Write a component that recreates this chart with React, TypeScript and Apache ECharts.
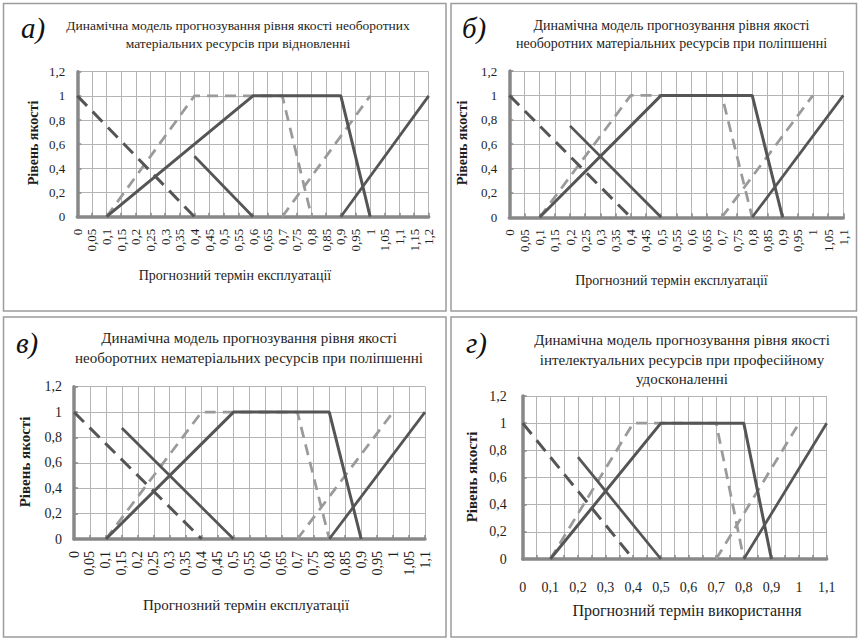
import React, { useEffect, useRef } from "react";
import * as echarts from "echarts";

// ---------- data (x = прогнозний термін, y = рівень якості) ----------
const panelLetters = ["а)", "б)", "в)", "г)"];
const panelTitles = [
  "Динамічна модель прогнозування рівня якості необоротних\nматеріальних ресурсів при відновленні",
  "Динамічна модель прогнозування рівня якості\nнеоборотних матеріальних ресурсів при поліпшенні",
  "Динамічна модель прогнозування рівня якості\nнеоборотних нематеріальних ресурсів при поліпшенні",
  "Динамічна модель прогнозування рівня якості\nінтелектуальних ресурсів при професійному\nудосконаленні",
];
const yAxisTitle = "Рівень якості";
const xAxisTitles = [
  "Прогнозний термін експлуатації",
  "Прогнозний термін експлуатації",
  "Прогнозний термін експлуатації",
  "Прогнозний термін використання",
];
const xMaxValues = [1.2, 1.1, 1.1, 1.1];
const xTickStep = 0.05;
const yTickStep = 0.2;
const yMax = 1.2;

// Panel а
const aDarkDashed = [[0, 1], [0.4, 0]];
const aGrayTrap = [[0.1, 0], [0.4, 1], [0.7, 1], [0.8, 0]];
const aGrayRise = [[0.7, 0], [1.0, 1]];
const aDarkTrap = [[0.1, 0], [0.6, 1], [0.9, 1], [1.0, 0]];
const aDarkFall = [[0.4, 0.5], [0.6, 0]];
const aDarkRise = [[0.9, 0], [1.2, 1]];

// Panel б
const bDarkDashed = [[0, 1], [0.4, 0]];
const bGrayTrap = [[0.1, 0], [0.4, 1], [0.7, 1], [0.8, 0]];
const bGrayRise = [[0.7, 0], [1.0, 1]];
const bDarkTrap = [[0.1, 0], [0.5, 1], [0.8, 1], [0.9, 0]];
const bDarkFall = [[0.2, 0.75], [0.5, 0]];
const bDarkRise = [[0.8, 0], [1.1, 1]];

// Panel в
const cDarkDashed = [[0, 1], [0.4, 0]];
const cGrayTrap = [[0.1, 0], [0.4, 1], [0.7, 1], [0.8, 0]];
const cGrayRise = [[0.7, 0], [1.0, 1]];
const cDarkTrap = [[0.1, 0], [0.5, 1], [0.8, 1], [0.9, 0]];
const cDarkFall = [[0.15, 0.875], [0.5, 0]];
const cDarkRise = [[0.8, 0], [1.1, 1]];

// Panel г
const dDarkDashed = [[0, 1], [0.4, 0]];
const dGrayTrap = [[0.1, 0], [0.4, 1], [0.7, 1], [0.8, 0]];
const dGrayRise = [[0.7, 0], [1.0, 1]];
const dDarkTrap = [[0.1, 0], [0.5, 1], [0.8, 1], [0.9, 0]];
const dDarkFall = [[0.2, 0.75], [0.5, 0]];
const dDarkRise = [[0.8, 0], [1.1, 1]];

const panelSeries = [
  { darkDashed: aDarkDashed, grayTrap: aGrayTrap, grayRise: aGrayRise, darkTrap: aDarkTrap, darkFall: aDarkFall, darkRise: aDarkRise },
  { darkDashed: bDarkDashed, grayTrap: bGrayTrap, grayRise: bGrayRise, darkTrap: bDarkTrap, darkFall: bDarkFall, darkRise: bDarkRise },
  { darkDashed: cDarkDashed, grayTrap: cGrayTrap, grayRise: cGrayRise, darkTrap: cDarkTrap, darkFall: cDarkFall, darkRise: cDarkRise },
  { darkDashed: dDarkDashed, grayTrap: dGrayTrap, grayRise: dGrayRise, darkTrap: dDarkTrap, darkFall: dDarkFall, darkRise: dDarkRise },
];

// ---------- layout ----------
const SERIF = "Liberation Serif";
const DARK = "#555555";
const GRAY = "#9a9a9a";
const AXIS = "#888888";
const GRID = "#b4b4b4";
const TEXT = "#1e1e1e";

const grids = [
  { left: 77.3, top: 71.7, width: 351.4, height: 145 },
  { left: 509.3, top: 71, width: 334, height: 146.3 },
  { left: 74, top: 386.7, width: 351, height: 152.3 },
  { left: 522.7, top: 396, width: 304, height: 163 },
];
const borders = [
  { x: 3.5, y: 3.5, w: 442.5, h: 307.5 },
  { x: 451, y: 3.5, w: 405.5, h: 307.5 },
  { x: 3.5, y: 317, w: 442.5, h: 320 },
  { x: 451, y: 317, w: 405.5, h: 320 },
];
const letterPos = [
  { x: 21, y: 28 },
  { x: 462, y: 28 },
  { x: 16, y: 343 },
  { x: 466, y: 343 },
];
const titleLayout = [
  { x: 238, y: 34, size: 13.5, lh: 18 },
  { x: 671.5, y: 34, size: 14, lh: 18 },
  { x: 249, y: 348, size: 15, lh: 20 },
  { x: 682, y: 359.5, size: 15, lh: 19.7 },
];
const yTitleLayout = [
  { x: 33, y: 143, size: 14 },
  { x: 462, y: 143, size: 14 },
  { x: 25, y: 462, size: 15 },
  { x: 472, y: 477, size: 15 },
];
const xTitleLayout = [
  { x: 235, y: 275, size: 14 },
  { x: 671.5, y: 280, size: 14 },
  { x: 246, y: 605, size: 15 },
  { x: 687, y: 610, size: 16 },
];

const fmt = (v: number) => String(+v.toFixed(2)).replace(".", ",");

export default function App() {
  const ref = useRef<HTMLDivElement>(null);
  useEffect(() => {
    if (!ref.current) return;
    const chart = echarts.init(ref.current, undefined, { renderer: "svg" });

    const xAxis = grids.map((_, i) => ({
      type: "value",
      gridIndex: i,
      min: 0,
      max: xMaxValues[i],
      interval: xTickStep,
      axisLine: { show: true, onZero: false, lineStyle: { color: AXIS, width: 3.5 } },
      axisTick: { show: true, inside: true, length: 4, lineStyle: { color: AXIS, width: 1.5 } },
      splitLine: { show: true, lineStyle: { color: GRID, width: 1 } },
      axisLabel:
        i === 3
          ? {
              rotate: 0,
              margin: 21,
              fontFamily: SERIF,
              fontSize: 14,
              color: TEXT,
              showMaxLabel: true,
              showMinLabel: true,
              formatter: (v: number) => (Math.round(v * 100) % 10 === 0 ? fmt(v) : ""),
            }
          : {
              rotate: 90,
              margin: 12,
              fontFamily: SERIF,
              fontSize: i === 2 ? 14 : 13,
              color: TEXT,
              showMaxLabel: true,
              showMinLabel: true,
              formatter: (v: number) => fmt(v),
            },
    }));
    const yAxis = grids.map((_, i) => ({
      type: "value",
      gridIndex: i,
      min: 0,
      max: yMax,
      interval: yTickStep,
      axisLine: { show: true, lineStyle: { color: AXIS, width: 3.5 } },
      axisTick: { show: true, inside: true, length: 4, lineStyle: { color: AXIS, width: 1.5 } },
      splitLine: { show: true, lineStyle: { color: GRID, width: 1 } },
      axisLabel: {
        margin: i === 3 ? 16 : 12,
        fontFamily: SERIF,
        fontSize: i >= 2 ? 14 : 13,
        color: TEXT,
        formatter: (v: number) => fmt(v),
      },
    }));

    const series: any[] = [];
    panelSeries.forEach((p, i) => {
      const base = { type: "line", xAxisIndex: i, yAxisIndex: i, showSymbol: false, symbol: "none", silent: true };
      series.push({ ...base, name: "grayTrap" + i, data: p.grayTrap, z: 2, lineStyle: { color: GRAY, width: 2.75, type: [11, 7], cap: "butt" } });
      series.push({ ...base, name: "grayRise" + i, data: p.grayRise, z: 2, lineStyle: { color: GRAY, width: 2.75, type: [11, 7], cap: "butt" } });
      series.push({ ...base, name: "darkDashed" + i, data: p.darkDashed, z: 3, lineStyle: { color: DARK, width: 3, type: [14, 8], cap: "butt" } });
      series.push({ ...base, name: "darkTrap" + i, data: p.darkTrap, z: 4, lineStyle: { color: DARK, width: 3, type: "solid" } });
      series.push({ ...base, name: "darkFall" + i, data: p.darkFall, z: 4, lineStyle: { color: DARK, width: 2.75, type: "solid" } });
      series.push({ ...base, name: "darkRise" + i, data: p.darkRise, z: 4, lineStyle: { color: DARK, width: 2.75, type: "solid" } });
    });

    const graphic: any[] = [];
    borders.forEach((b) => {
      graphic.push({
        type: "rect",
        shape: { x: b.x, y: b.y, width: b.w, height: b.h },
        style: { fill: "none", stroke: "#9c9c9c", lineWidth: 1.5 },
        silent: true,
        z: 0,
      });
    });
    panelLetters.forEach((t, i) => {
      graphic.push({
        type: "text",
        x: letterPos[i].x,
        y: letterPos[i].y,
        style: { text: t, fontFamily: SERIF, fontStyle: "italic", fontSize: 29, fill: "#111", textAlign: "left", textVerticalAlign: "middle" },
      });
    });
    panelTitles.forEach((t, i) => {
      const L = titleLayout[i];
      graphic.push({
        type: "text",
        x: L.x,
        y: L.y,
        style: {
          text: t,
          fontFamily: SERIF,
          fontSize: L.size,
          fill: TEXT,
          textAlign: "center",
          textVerticalAlign: "middle",
          lineHeight: L.lh,
        },
      });
    });
    yTitleLayout.forEach((L) => {
      graphic.push({
        type: "text",
        x: L.x,
        y: L.y,
        rotation: Math.PI / 2,
        style: { text: yAxisTitle, fontFamily: SERIF, fontWeight: "bold", fontSize: L.size, fill: TEXT, textAlign: "center", textVerticalAlign: "middle" },
      });
    });
    xTitleLayout.forEach((L, i) => {
      graphic.push({
        type: "text",
        x: L.x,
        y: L.y,
        style: { text: xAxisTitles[i], fontFamily: SERIF, fontSize: L.size, fill: TEXT, textAlign: "center", textVerticalAlign: "middle" },
      });
    });

    chart.setOption({
      animation: false,
      backgroundColor: "#ffffff",
      textStyle: { fontFamily: SERIF },
      grid: grids.map((g) => ({ ...g, containLabel: false })),
      xAxis,
      yAxis,
      series,
      graphic,
    });
    return () => chart.dispose();
  }, []);
  return (
    <div
      ref={ref}
      style={{ position: "absolute", left: 0, top: 0, width: 859, height: 639, background: "#fff" }}
    />
  );
}
